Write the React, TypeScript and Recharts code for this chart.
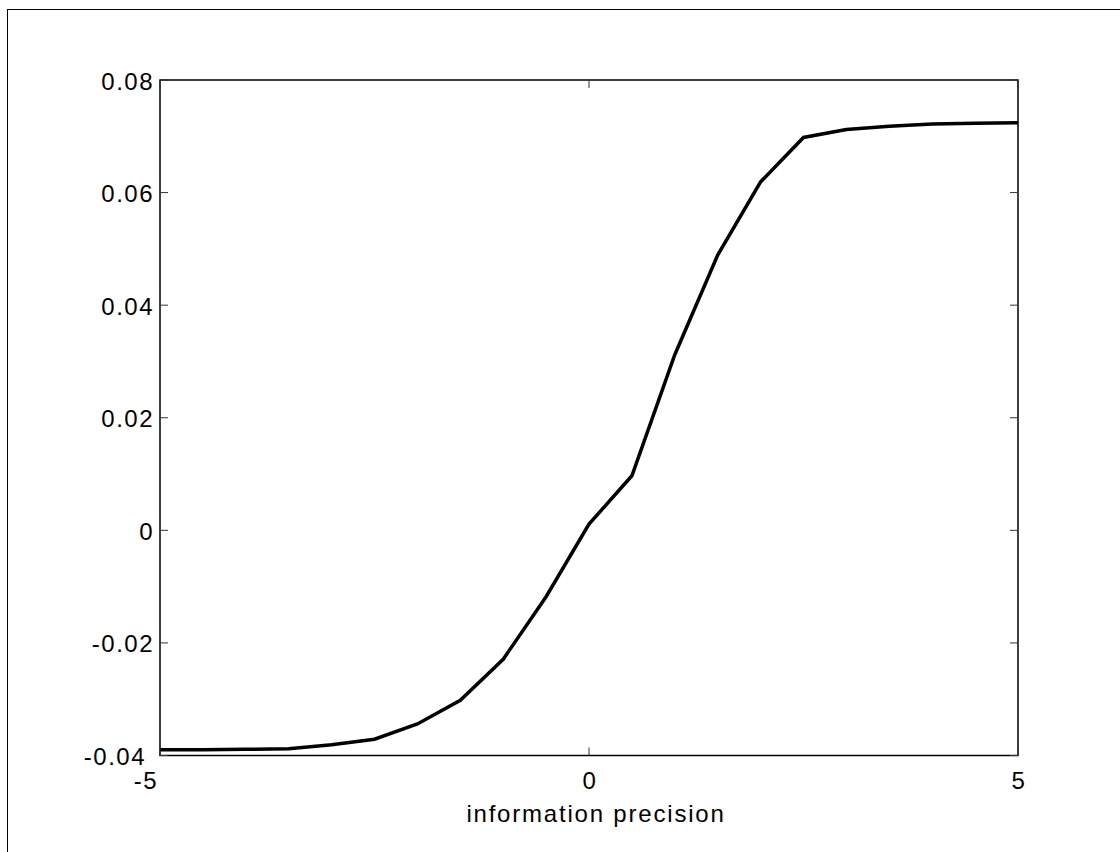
import React from "react"
import { LineChart, Line, XAxis, YAxis, ReferenceArea } from "recharts"

// information precision (x) vs response (y)
const precision = [-5, -4.5, -4, -3.5, -3, -2.5, -2, -1.5, -1, -0.5, 0, 0.5, 1, 1.5, 2, 2.5, 3, 3.5, 4, 4.5, 5]
const response = [
  -0.039, -0.039, -0.0389, -0.0388, -0.0381, -0.0371, -0.0344, -0.0302, -0.0229, -0.0118,
  0.0011, 0.0097, 0.0312, 0.0489, 0.0619, 0.0698, 0.0712, 0.0718, 0.0722, 0.0723, 0.0724,
]
const xTicks = [-5, 0, 5]
const yTicks = [-0.04, -0.02, 0, 0.02, 0.04, 0.06, 0.08]
const xLabel = "information precision"

const W = 1120
const H = 852
// axes are 1px thick boxes (recharts skips an axis of size 0)
const MARGIN = { top: 80, right: 102, bottom: 95.5, left: 159 }
const PLOT_RIGHT = W - MARGIN.right
const FONT = "'Liberation Sans', Arial, sans-serif"
const TICK_LEN = 8

const data = precision.map((p, i) => ({ p, v: response[i] }))

function XTick({ x, y, payload }: any) {
  const v = payload.value
  // matlab pushes the leftmost label off the corner
  const first = v === xTicks[0]
  return (
    <g>
      <line x1={x} x2={x} y1={y} y2={y - TICK_LEN} stroke="#333" strokeWidth={1} />
      <line x1={x} x2={x} y1={MARGIN.top} y2={MARGIN.top + TICK_LEN} stroke="#333" strokeWidth={1} />
      <text
        x={first ? x - 2 : x + 1}
        y={y + 33}
        textAnchor={first ? "end" : "middle"}
        fontSize={24}
        letterSpacing={1.5}
        fontFamily={FONT}
        fill="#000"
      >
        {v}
      </text>
    </g>
  )
}

function YTick({ x, y, payload }: any) {
  const v = payload.value
  const last = v === yTicks[0]
  const label = v === 0 ? "0" : v.toFixed(2)
  return (
    <g>
      <line x1={x} x2={x + TICK_LEN} y1={y} y2={y} stroke="#333" strokeWidth={1} />
      <line x1={PLOT_RIGHT} x2={PLOT_RIGHT - TICK_LEN} y1={y} y2={y} stroke="#333" strokeWidth={1} />
      <text
        x={last ? x - 14 : x - 6}
        y={y + 1}
        dy="0.355em"
        textAnchor="end"
        fontSize={24}
        letterSpacing={1.5}
        fontFamily={FONT}
        fill="#000"
      >
        {label}
      </text>
    </g>
  )
}

export default function App() {
  return (
    <div
      style={{
        position: "absolute",
        left: 0,
        top: 0,
        width: W,
        height: H,
        overflow: "hidden",
        background: "#fff",
      }}
    >
      <div
        style={{
          position: "absolute",
          left: 7,
          top: 9,
          width: W,
          height: H,
          borderTop: "1px solid #000",
          borderLeft: "1px solid #000",
        }}
      />
      <div style={{ position: "absolute", left: 0, top: 0 }}>
        <LineChart width={W} height={H} data={data} margin={MARGIN}>
          <XAxis
            dataKey="p"
            type="number"
            domain={[-5, 5]}
            ticks={xTicks}
            height={1}
            tickSize={0}
            tickMargin={0}
            tickLine={false}
            axisLine={false}
            tick={<XTick />}
            interval={0}
            label={{
              content: ({ viewBox }: any) => (
                <text
                  x={viewBox.x + viewBox.width / 2 + 7}
                  y={viewBox.y + 66.5}
                  textAnchor="middle"
                  fontSize={24}
                  letterSpacing={1.8}
                  fontFamily={FONT}
                  fill="#000"
                >
                  {xLabel}
                </text>
              ),
            }}
          />
          <YAxis
            type="number"
            domain={[-0.04, 0.08]}
            ticks={yTicks}
            width={1}
            tickSize={0}
            tickMargin={0}
            tickLine={false}
            axisLine={false}
            tick={<YTick />}
            interval={0}
          />
          <ReferenceArea
            x1={-5}
            x2={5}
            y1={-0.04}
            y2={0.08}
            fill="none"
            stroke="#000"
            strokeWidth={1.5}
            fillOpacity={0}
          />
          <Line
            type="linear"
            dataKey="v"
            stroke="#000"
            strokeWidth={3.5}
            dot={false}
            isAnimationActive={false}
          />
        </LineChart>
      </div>
    </div>
  )
}
